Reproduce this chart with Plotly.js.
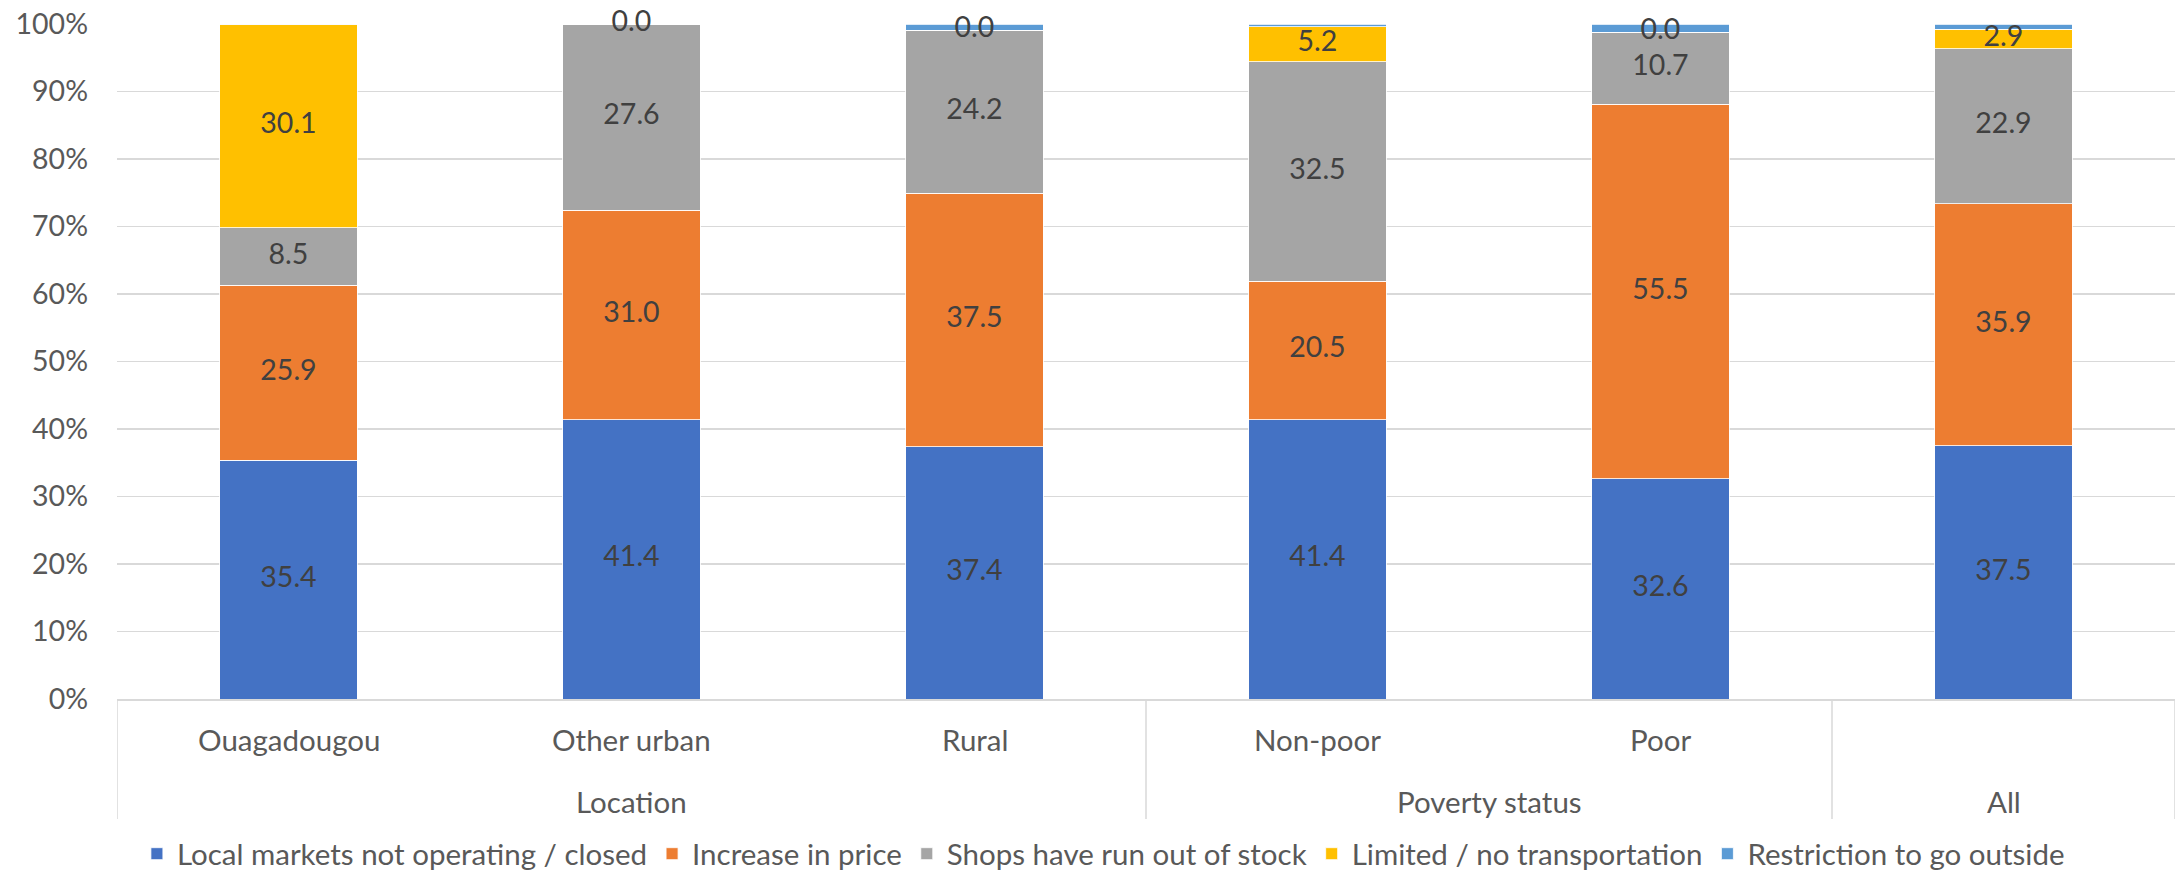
<!DOCTYPE html>
<html>
<head>
<meta charset="utf-8">
<script src="https://cdn.plot.ly/plotly-3.0.1.min.js"></script>
<style>html,body{margin:0;padding:0;background:#fff;}#chart{width:2178px;height:875px;}</style>
</head>
<body>
<div id="chart"></div>
<script>
// ---- data (percent of households) ----
var groups = ["Location", "Location", "Location", "Poverty status", "Poverty status", "All"];
var subLabels = ["Ouagadougou", "Other urban", "Rural", "Non-poor", "Poor", ""];
var seriesNames = ["Local markets not operating / closed", "Increase in price", "Shops have run out of stock", "Limited / no transportation", "Restriction to go outside"];
var marketsClosed = [35.4, 41.4, 37.4, 41.4, 32.6, 37.5];
var priceIncrease = [25.9, 31.0, 37.5, 20.5, 55.5, 35.9];
var outOfStock = [8.5, 27.6, 24.2, 32.5, 10.7, 22.9];
var noTransport = [30.1, 0.0, 0.0, 5.2, 0.0, 2.9];
var restriction = [0.1, 0.0, 0.9, 0.4, 1.2, 0.8];
var yTickVals = [0, 10, 20, 30, 40, 50, 60, 70, 80, 90, 100];
var yTickText = ["0%", "10%", "20%", "30%", "40%", "50%", "60%", "70%", "80%", "90%", "100%"];

// ---- styling ----
var colors = ["#4472C4", "#ED7D31", "#A5A5A5", "#FFC000", "#5B9BD5"];
var showLabel = [true, true, true, true, false];
var FONT = "Lato, Carlito, Calibri, 'Liberation Sans', sans-serif";
var FS_DATA = 28.5, FS_TICK = 28.5, FS_CAT = 29.5, FS_LEG = 29.5;

var keys = subLabels.map(function (s, i) { return s || groups[i]; });
var allSeries = [marketsClosed, priceIncrease, outOfStock, noTransport, restriction];

var traces = [];
var base = keys.map(function () { return 0; });
var labX = [], labY = [], labT = [];
allSeries.forEach(function (vals, si) {
  traces.push({
    type: "bar", name: seriesNames[si], x: keys, y: vals,
    marker: { color: colors[si], line: { color: "#ffffff", width: 0.8 } },
    hoverinfo: "name+y"
  });
  vals.forEach(function (v, i) {
    if (showLabel[si]) {
      labX.push(keys[i]);
      labY.push(base[i] + v / 2);
      labT.push(v.toFixed(1));
    }
    base[i] += v;
  });
});
traces.push({
  type: "scatter", mode: "text", x: labX, y: labY, text: labT,
  textposition: "middle center", cliponaxis: false, showlegend: false, hoverinfo: "skip",
  textfont: { family: FONT, size: FS_DATA, color: "#404040" }
});

// ---- multi-level category axis built from groups ----
var plotH = 875 - 24 - 176;
var annotations = [], shapes = [];
keys.forEach(function (k, i) {
  annotations.push({
    x: k, xref: "x", y: 0, yref: "paper", yshift: -40, yanchor: "middle",
    text: subLabels[i], showarrow: false, font: { family: FONT, size: FS_CAT, color: "#595959" }
  });
});
var start = 0;
for (var i = 1; i <= groups.length; i++) {
  if (i === groups.length || groups[i] !== groups[start]) {
    annotations.push({
      x: (start + i - 1) / 2, xref: "x", y: 0, yref: "paper", yshift: -102, yanchor: "middle",
      text: groups[start], showarrow: false, font: { family: FONT, size: FS_CAT, color: "#595959" }
    });
    shapes.push({ type: "line", xref: "x", yref: "paper", x0: start - 0.5, x1: start - 0.5, y0: 0, y1: -120 / plotH, line: { color: "#d9d9d9", width: 1.5 } });
    if (i === groups.length) {
      shapes.push({ type: "line", xref: "x", yref: "paper", x0: i - 0.5, x1: i - 0.5, y0: 0, y1: -120 / plotH, line: { color: "#d9d9d9", width: 1.5 } });
    }
    start = i;
  }
}

var layout = {
  width: 2178, height: 875,
  margin: { l: 117, r: 3, t: 24, b: 176 },
  paper_bgcolor: "#ffffff", plot_bgcolor: "#ffffff",
  barmode: "stack", bargap: 0.6,
  font: { family: FONT, size: FS_TICK, color: "#595959" },
  xaxis: {
    type: "category", categoryorder: "array", categoryarray: keys,
    range: [-0.5, keys.length - 0.5], showticklabels: false, ticks: "",
    showgrid: false, showline: true, linecolor: "#d9d9d9", linewidth: 1.5, zeroline: false, fixedrange: true
  },
  yaxis: {
    range: [0, 100], tickmode: "array", tickvals: yTickVals, ticktext: yTickText, ticks: "",
    showgrid: true, gridcolor: "#d9d9d9", gridwidth: 1.5, zeroline: false, showline: false,
    ticklabelstandoff: 28, tickfont: { family: FONT, size: FS_TICK, color: "#595959" }, fixedrange: true
  },
  showlegend: true,
  legend: {
    orientation: "h", xref: "paper", x: 0.4793, xanchor: "center",
    yref: "container", y: 21 / 875, yanchor: "middle",
    font: { family: FONT, size: FS_LEG, color: "#595959" }, traceorder: "normal", itemclick: false
  },
  annotations: annotations, shapes: shapes
};

Plotly.newPlot("chart", traces, layout, { displayModeBar: false, staticPlot: true });
</script>
</body>
</html>
